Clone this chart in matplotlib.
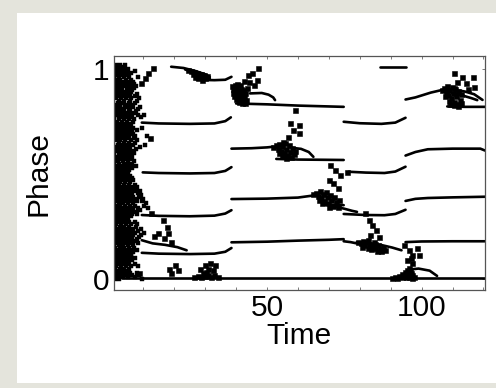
import matplotlib
matplotlib.use("Agg")
import matplotlib.pyplot as plt
from matplotlib.patches import Rectangle

# phase of each oscillator over time: long runs drawn as lines, scattered samples as dots

# dense start-up cloud, one row per phase value
cloud_rows = [
    (1.02, [1.0, 2.5, 4.2]),
    (1.00, [0.6, 1.8, 3.4, 5.1]),
    (0.98, [1.2, 2.9, 4.6, 6.0]),
    (0.96, [0.4, 2.1, 3.8, 5.5, 8.3]),
    (0.94, [1.5, 3.0, 4.9, 6.7]),
    (0.92, [0.8, 2.4, 4.1, 5.8, 7.5]),
    (0.90, [1.3, 3.2, 5.0, 6.4]),
    (0.88, [0.5, 2.0, 3.7, 5.6, 7.9]),
    (0.86, [1.1, 2.8, 4.4, 6.1, 8.6]),
    (0.84, [0.3, 1.9, 3.5, 5.3, 7.2]),
    (0.82, [1.4, 2.6, 4.8, 6.6, 9.0]),
    (0.80, [0.7, 2.2, 3.9, 5.7, 7.7]),
    (0.78, [1.6, 3.1, 4.5, 6.2, 8.4, 10.1]),
    (0.76, [0.4, 2.0, 3.6, 5.2, 7.0]),
    (0.74, [1.2, 2.7, 4.3, 5.9]),
    (0.72, [0.6, 1.9, 3.4, 5.0, 6.8, 9.6]),
    (0.70, [1.3, 2.9, 4.6, 6.3]),
    (0.68, [0.5, 2.3, 3.8, 5.4, 7.4, 11.2]),
    (0.66, [1.0, 2.6, 4.2, 6.0, 8.1]),
    (0.64, [0.3, 1.7, 3.3, 4.9, 6.5, 10.4]),
    (0.62, [1.1, 2.8, 4.4, 5.8, 7.6]),
    (0.60, [0.6, 2.1, 3.6, 5.3, 7.0]),
    (0.58, [1.4, 3.0, 4.7, 6.2]),
    (0.56, [0.4, 1.9, 3.5, 5.1, 6.9]),
    (0.54, [1.0, 2.6, 4.1, 5.6, 7.7]),
    (0.52, [0.7, 2.2, 3.8, 5.4]),
    (0.50, [1.3, 2.9, 4.4]),
    (0.48, [0.5, 1.8, 3.3, 5.0, 6.3]),
    (0.46, [1.1, 2.5, 4.0, 5.7]),
    (0.44, [0.3, 1.6, 3.1, 4.6, 6.6, 8.0]),
    (0.42, [0.9, 2.3, 3.8, 5.3, 7.1, 8.8]),
    (0.40, [0.5, 1.9, 3.4, 4.9, 6.2, 9.4]),
    (0.38, [1.2, 2.7, 4.2, 5.6, 7.3, 10.0]),
    (0.36, [0.6, 2.0, 3.5, 5.0, 6.7, 10.8]),
    (0.34, [1.4, 2.9, 4.5, 6.1, 8.3, 11.6]),
    (0.32, [0.4, 1.8, 3.3, 5.4, 7.6]),
    (0.30, [1.0, 2.5, 4.0, 5.9]),
    (0.28, [0.7, 2.2, 3.6, 5.1]),
    (0.26, [1.3, 2.8, 4.3, 6.0, 8.0]),
    (0.24, [0.5, 1.9, 3.4, 4.8, 6.6, 9.2]),
    (0.22, [1.1, 2.6, 4.0, 5.5, 7.3, 10.1]),
    (0.20, [0.4, 1.7, 3.2, 4.6, 6.2, 8.6]),
    (0.18, [0.9, 2.3, 3.8, 5.3, 7.0]),
    (0.16, [0.6, 2.0, 3.5, 4.9, 6.5]),
    (0.14, [1.2, 2.7, 4.2, 5.8, 7.8]),
    (0.12, [0.4, 1.8, 3.3, 4.6, 6.1]),
    (0.10, [1.0, 2.4, 3.9, 5.4, 7.2]),
    (0.08, [0.6, 2.0, 3.5, 5.0]),
    (0.06, [1.3, 2.8, 4.3, 6.0, 8.4]),
    (0.04, [0.5, 1.9, 3.2, 4.7]),
    (0.02, [1.1, 2.5, 4.1, 6.3, 8.7]),
    (0.00, [0.8, 2.2, 9.5]),
]

# second, offset layer of the same cloud
cloud_rows_b = [
    (1.01, [0.3, 2.2, 3.9]),
    (0.99, [1.0, 2.6, 4.0, 7.2]),
    (0.97, [0.7, 1.6, 3.3, 5.0]),
    (0.95, [1.1, 2.6, 4.3, 6.1]),
    (0.93, [0.4, 2.0, 3.6, 5.3, 7.0]),
    (0.91, [1.8, 2.9, 4.6, 6.9]),
    (0.89, [0.9, 2.6, 4.3, 6.0]),
    (0.87, [0.3, 1.6, 3.3, 5.0, 7.3]),
    (0.85, [2.2, 3.9, 5.7, 7.8]),
    (0.83, [0.9, 2.6, 4.2, 6.0]),
    (0.81, [0.3, 1.8, 3.4, 5.2, 8.2]),
    (0.79, [1.1, 2.7, 4.9, 6.9]),
    (0.77, [0.6, 2.4, 4.0, 5.8, 9.2]),
    (0.75, [1.5, 3.1, 4.8, 6.5]),
    (0.73, [0.3, 2.3, 3.9, 5.4]),
    (0.71, [0.9, 2.4, 4.1, 5.7, 7.9]),
    (0.69, [1.8, 3.3, 5.0, 6.8]),
    (0.67, [0.4, 1.5, 3.3, 4.8, 7.0]),
    (0.65, [2.1, 3.7, 5.5, 7.3]),
    (0.63, [0.7, 2.3, 3.9, 5.4, 9.0]),
    (0.61, [1.6, 3.2, 4.9, 6.5]),
    (0.59, [0.3, 2.5, 4.1, 5.8]),
    (0.57, [1.0, 2.6, 4.2, 6.0]),
    (0.55, [0.6, 2.2, 3.8, 5.0, 6.4]),
    (0.53, [1.4, 3.1, 4.6, 6.3]),
    (0.51, [0.4, 1.9, 3.5, 5.0]),
    (0.49, [1.0, 2.4, 3.9, 5.6]),
    (0.47, [0.3, 1.6, 3.0, 4.6, 6.8]),
    (0.45, [0.8, 2.0, 3.6, 5.2, 7.4]),
    (0.43, [1.3, 2.8, 4.2, 6.0, 7.6]),
    (0.41, [0.3, 1.6, 3.0, 4.4, 5.8, 8.2]),
    (0.39, [0.8, 2.3, 3.8, 5.3, 6.8, 8.7]),
    (0.37, [0.3, 1.6, 3.1, 4.6, 6.2, 7.8, 9.5]),
    (0.35, [1.0, 2.5, 4.0, 5.6, 7.4, 10.2]),
    (0.33, [0.7, 2.3, 3.8, 4.9, 6.8, 9.0]),
    (0.31, [1.4, 3.0, 4.6, 6.4, 8.0]),
    (0.29, [0.4, 1.8, 3.2, 4.6]),
    (0.27, [1.0, 2.5, 3.9, 5.5, 7.2]),
    (0.25, [0.8, 2.3, 3.8, 5.3, 7.6]),
    (0.23, [0.3, 1.5, 3.0, 4.4, 6.0, 8.4]),
    (0.21, [0.8, 2.2, 3.7, 5.1, 6.8, 9.2]),
    (0.19, [1.3, 2.8, 4.3, 5.8, 7.8]),
    (0.17, [0.4, 1.6, 3.0, 4.5, 6.0, 8.2]),
    (0.15, [0.9, 2.4, 3.9, 5.3, 7.0]),
    (0.13, [0.6, 2.2, 3.7, 5.2, 6.8]),
    (0.11, [1.4, 2.9, 4.4, 6.0]),
    (0.09, [0.4, 1.8, 3.1, 4.6, 6.4]),
    (0.07, [1.0, 2.4, 3.9, 5.4, 7.3]),
    (0.05, [0.7, 2.3, 3.7, 5.2]),
    (0.03, [1.4, 2.9, 4.4, 5.6, 7.8]),
    (0.01, [0.4, 1.7, 3.3, 5.0, 7.2]),
]

# long runs (time, phase)
base_x, base_y = [3.0, 120.5], [0.003, 0.003]

a1_x, a1_y = [9.5, 15, 25, 33, 36.5, 38.5], [0.125, 0.121, 0.119, 0.121, 0.130, 0.148]
a2_x, a2_y = [9.5, 15, 25, 33, 36.5, 38.5], [0.305, 0.301, 0.299, 0.302, 0.312, 0.328]
a3_x, a3_y = [9.8, 15, 25, 33, 36.5, 38.5], [0.508, 0.505, 0.503, 0.505, 0.515, 0.533]
a4_x, a4_y = [9.5, 15, 25, 33, 36.5, 38.3], [0.745, 0.741, 0.739, 0.741, 0.752, 0.770]
a5_x, a5_y = [19.0, 23, 27, 30, 31.5], [1.011, 1.005, 0.990, 0.975, 0.962]
a6_x, a6_y = [23.5, 27, 29.5, 31.5], [0.998, 0.980, 0.967, 0.955]
a7_x, a7_y = [27.0, 30, 33, 36.5, 38.5], [0.952, 0.948, 0.947, 0.949, 0.963]
a8_x, a8_y = [9.5, 13, 17, 21, 24], [0.185, 0.170, 0.163, 0.152, 0.137]

b1_x, b1_y = [38.5, 50, 60, 70, 74.8], [0.175, 0.178, 0.183, 0.187, 0.190]
b2_x, b2_y = [38.5, 50, 60, 65], [0.381, 0.383, 0.388, 0.398]
b3_x, b3_y = [68, 71, 74.8], [0.355, 0.352, 0.352]
b4_x, b4_y = [72, 75, 77.5, 79.1], [0.345, 0.335, 0.325, 0.320]
b5_x, b5_y = [38.5, 45, 50, 52], [0.621, 0.623, 0.627, 0.630]
b6_x, b6_y = [53, 60, 68, 74.8], [0.572, 0.569, 0.568, 0.567]
b7_x, b7_y = [58, 61, 63.5, 65], [0.625, 0.620, 0.605, 0.582]
b8_x, b8_y = [40, 50, 60, 74.8], [0.836, 0.832, 0.826, 0.820]
b9_x, b9_y = [44.5, 48.3, 50.5, 52, 52.6], [0.884, 0.886, 0.878, 0.865, 0.852]

c1_x, c1_y = [86.7, 94.8], [1.011, 1.011]
c2_x, c2_y = [74.8, 80, 87, 91.5, 94.8], [0.749, 0.742, 0.739, 0.745, 0.768]
c3_x, c3_y = [76.4, 82, 88, 91.5, 94.8], [0.511, 0.507, 0.505, 0.512, 0.535]
c4_x, c4_y = [74.8, 82, 88, 91.5, 94.8], [0.310, 0.305, 0.304, 0.310, 0.330]
c5_x, c5_y = [74.8, 77, 79], [0.180, 0.176, 0.170]
c6_x, c6_y = [79, 83, 87, 90.5, 93.5], [0.175, 0.170, 0.162, 0.150, 0.137]

d1_x, d1_y = [94.8, 100, 110, 120.5], [0.176, 0.179, 0.180, 0.180]
d2_x, d2_y = [94.8, 98, 102, 110, 120.5], [0.372, 0.382, 0.386, 0.389, 0.392]
d3_x, d3_y = [94.8, 98, 102, 110, 119, 120.5], [0.588, 0.605, 0.618, 0.621, 0.621, 0.612]
d4_x, d4_y = [94.8, 98, 103, 106.5, 109], [0.855, 0.865, 0.888, 0.900, 0.900]
d5_x, d5_y = [108.3, 114, 120.5], [0.822, 0.820, 0.820]
d6_x, d6_y = [111, 114, 117, 119.7], [0.900, 0.893, 0.880, 0.853]
d7_x, d7_y = [110, 113, 116, 118], [0.885, 0.875, 0.862, 0.852]
d8_x, d8_y = [96, 99, 102.6, 105], [0.045, 0.050, 0.040, 0.015]

# scattered samples around each regrouping (time, phase)
burst_a_top = [(24.5, 0.995), (25.5, 0.99), (26.5, 0.985), (27.5, 0.98), (28.5, 0.975),
               (29.5, 0.97), (26, 0.975), (27, 0.97), (28, 0.965), (29, 0.96), (30, 0.958),
               (30.5, 0.968), (27.8, 0.958), (26.8, 0.96), (29, 0.95),
               (9.4, 0.933), (10.5, 0.957), (11.5, 0.98), (13.1, 1.005)]
burst_a_low = [(8.7, 0.03), (19.1, 0.027), (20.1, 0.067), (21.2, 0.043), (18.4, 0.05),
               (28.2, 0.05), (29.9, 0.067), (31.5, 0.075), (33.1, 0.067), (30.9, 0.05),
               (32.6, 0.043), (29.3, 0.027), (27.6, 0.015), (28.6, 0.012), (29.8, 0.015),
               (30.8, 0.02), (31.8, 0.012), (33, 0.018), (34, 0.01), (26.5, 0.008), (30.2, 0.035),
               (16.2, 0.281), (17.6, 0.249), (18.1, 0.217), (16.8, 0.194), (18.9, 0.178),
               (14.8, 0.22), (13.5, 0.205), (12.3, 0.67), (12.6, 0.314)]
burst_2 = [(38.7, 0.92), (39.5, 0.925), (40.3, 0.93), (41.2, 0.922), (39.0, 0.905), (39.8, 0.91),
           (40.6, 0.9), (41.5, 0.905), (42.3, 0.9), (38.9, 0.888), (39.7, 0.893), (40.5, 0.885),
           (41.3, 0.89), (42.1, 0.883), (43.0, 0.887), (39.4, 0.872), (40.2, 0.876), (41.0, 0.868),
           (41.8, 0.873), (42.6, 0.866), (40.0, 0.858), (40.8, 0.852), (41.6, 0.857), (42.4, 0.85),
           (43.3, 0.855), (41.0, 0.842), (42.0, 0.838), (43.0, 0.84),
           (43.9, 0.971), (45, 0.98), (47.2, 1.003), (46.7, 0.948), (45.7, 0.925), (42.5, 0.945),
           (44.2, 0.94), (43.5, 0.91)]
burst_3 = [(52, 0.63), (53, 0.638), (53.5, 0.62), (54, 0.645), (54.5, 0.61), (55, 0.632),
           (55.5, 0.6), (55.8, 0.648), (56, 0.62), (56.5, 0.59), (57, 0.638), (57.3, 0.605),
           (57.8, 0.58), (58.2, 0.625), (58.6, 0.595), (59, 0.612), (54.8, 0.59), (56.3, 0.578),
           (53.8, 0.6), (55.2, 0.655),
           (57.5, 0.741), (60.2, 0.733), (58.5, 0.71), (60.2, 0.694), (56.9, 0.678), (59.1, 0.805)]
burst_4 = [(65, 0.405), (66, 0.412), (66.5, 0.395), (67, 0.42), (67.5, 0.385), (68, 0.405),
           (68.5, 0.372), (69, 0.415), (69.3, 0.39), (69.8, 0.36), (70.3, 0.4), (70.8, 0.378),
           (71.3, 0.35), (71.8, 0.39), (72.3, 0.365), (72.8, 0.345), (73.3, 0.375), (67.8, 0.36),
           (66.8, 0.375), (70, 0.345),
           (70.5, 0.543), (72.1, 0.519), (73.7, 0.495), (69.9, 0.471), (71.5, 0.456),
           (73.1, 0.432), (75.9, 0.511)]
burst_5 = [(79.5, 0.178), (80.5, 0.17), (81, 0.182), (81.5, 0.16), (82, 0.175), (82.5, 0.15),
           (83, 0.168), (83.5, 0.142), (84, 0.158), (84.5, 0.175), (85, 0.148), (85.5, 0.135),
           (86, 0.162), (86.5, 0.145), (87, 0.132), (87.5, 0.152), (88.3, 0.14), (80.8, 0.155),
           (82.8, 0.185), (84.8, 0.165),
           (81.8, 0.313), (82.9, 0.281), (84, 0.257), (85.1, 0.233), (83.4, 0.21), (86.1, 0.202)]
burst_6 = [(95.8, 0.055), (95.2, 0.045), (96.3, 0.042), (94.5, 0.035), (95.5, 0.032),
           (96.6, 0.03), (93.8, 0.025), (94.8, 0.022), (95.9, 0.02), (96.9, 0.018), (92.8, 0.015),
           (93.8, 0.012), (94.8, 0.01), (95.8, 0.008), (96.8, 0.006), (91.5, 0.008), (90.5, 0.005),
           (92.2, 0.004), (97.4, 0.01),
           (94.3, 0.162), (95.9, 0.138), (97, 0.114), (98.6, 0.146), (99.1, 0.114), (95.4, 0.09),
           (97, 0.075), (96.5, 0.1)]
burst_7 = [(106.5, 0.9), (107.3, 0.91), (107.8, 0.89), (108.3, 0.92), (108.6, 0.875), (109, 0.9),
           (109.4, 0.86), (109.8, 0.915), (110.1, 0.885), (110.4, 0.845), (110.8, 0.905),
           (111.2, 0.87), (111.5, 0.835), (111.9, 0.895), (112.3, 0.855), (112.7, 0.88),
           (109.2, 0.835), (110.6, 0.827), (108.8, 0.848), (111.8, 0.825), (107.5, 0.87),
           (112.8, 0.84),
           (110.5, 0.979), (113.2, 0.963), (116.5, 0.963), (111.6, 0.94), (114.3, 0.932),
           (117, 0.916), (110.5, 0.908), (115, 0.905)]

x_ticks = [50, 100]
y_ticks = [0, 1]

plt.rcParams['font.family'] = ['Liberation Sans', 'DejaVu Sans']

fig = plt.figure(figsize=(4.96, 3.88), dpi=100, facecolor="#e4e4dc")
# white panel behind the axes
fig.patches.append(Rectangle((17 / 496, 5 / 388), 479 / 496, 370 / 388,
                             transform=fig.transFigure,
                             facecolor="white", edgecolor="none", zorder=-10))
ax = fig.add_axes([0.2298, 0.2526, 0.748, 0.603])
ax.set_zorder(5)

runs = [(base_x, base_y),
        (a1_x, a1_y), (a2_x, a2_y), (a3_x, a3_y), (a4_x, a4_y),
        (a5_x, a5_y), (a6_x, a6_y), (a7_x, a7_y), (a8_x, a8_y),
        (b1_x, b1_y), (b2_x, b2_y), (b3_x, b3_y), (b4_x, b4_y), (b5_x, b5_y),
        (b6_x, b6_y), (b7_x, b7_y), (b8_x, b8_y), (b9_x, b9_y),
        (c1_x, c1_y), (c2_x, c2_y), (c3_x, c3_y), (c4_x, c4_y), (c5_x, c5_y), (c6_x, c6_y),
        (d1_x, d1_y), (d2_x, d2_y), (d3_x, d3_y), (d4_x, d4_y), (d5_x, d5_y),
        (d6_x, d6_y), (d7_x, d7_y), (d8_x, d8_y)]
for rx, ry in runs:
    ax.plot(rx, ry, color="black", lw=1.9, solid_capstyle="round")

for rows in [cloud_rows, cloud_rows_b]:
    cx = [x for y, xs in rows for x in xs]
    cy = [y for y, xs in rows for x in xs]
    ax.plot(cx, cy, "s", color="black", ms=3.0, mew=0.3)

for burst in [burst_a_top, burst_a_low, burst_2, burst_3, burst_4, burst_5, burst_6, burst_7]:
    bx = [p[0] for p in burst]
    by = [p[1] for p in burst]
    ax.plot(bx, by, "s", color="black", ms=3.6, mew=0.4)

ax.set_xlim(0.5, 120.5)
ax.set_ylim(-0.052, 1.062)
ax.set_xticks(x_ticks)
ax.set_xticks(range(10, 121, 10), minor=True)
ax.set_yticks(y_ticks)
ax.tick_params(direction="in", length=2.5, width=0.6, labelsize=21.5, pad=3,
               top=True, right=True, color="#666666")
ax.tick_params(which="minor", direction="in", length=2.5, width=0.6, top=True,
               color="#666666")
for s in ax.spines.values():
    s.set_color("#555555")
    s.set_linewidth(0.9)

ax.set_xlabel("Time", fontsize=21.5)
ax.set_ylabel("Phase", fontsize=21.5)
ax.xaxis.set_label_coords(0.5, -0.135)
ax.yaxis.set_label_coords(-0.165, 0.5)

fig.savefig("out.png", dpi=100, facecolor=fig.get_facecolor())
